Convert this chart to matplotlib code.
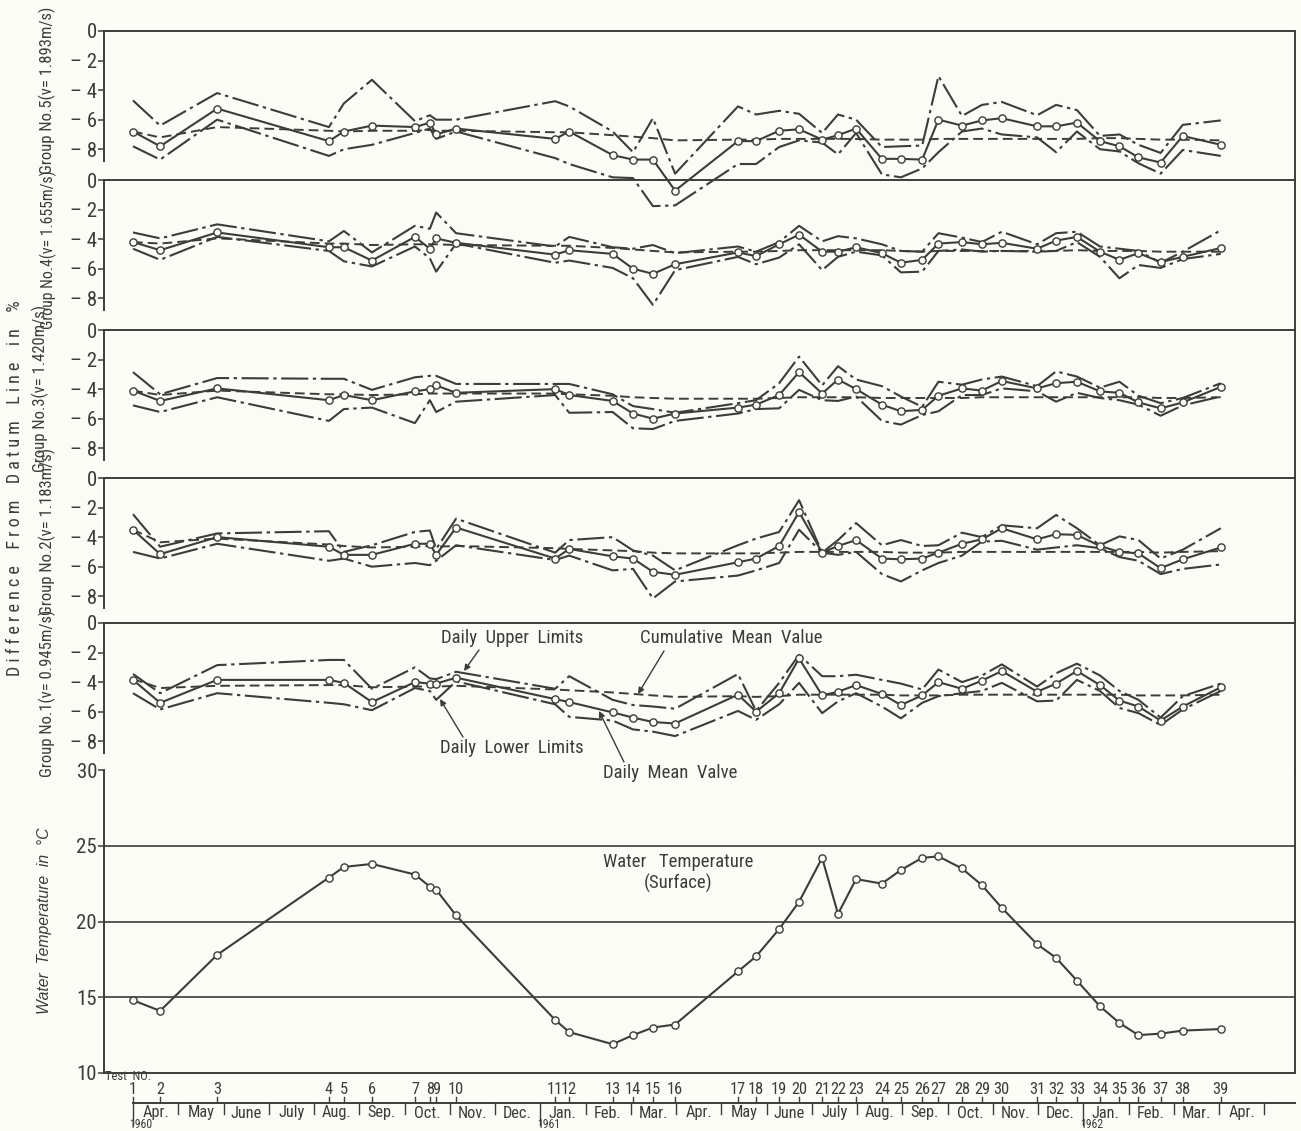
import matplotlib
matplotlib.use('Agg')
import matplotlib.pyplot as plt
from matplotlib import font_manager as fm

# ---------------- data ----------------
test_no = list(range(1, 40))
# test dates in months counted from 1 Apr 1960
test_month = [0.0, 0.60, 1.86, 4.33, 4.66, 5.28, 6.23, 6.56, 6.70, 7.14,
              9.33, 9.64, 10.60, 11.05, 11.49, 11.98, 13.37, 13.77, 14.28, 14.72,
              15.23, 15.58, 15.98, 16.55, 16.97, 17.44, 17.80, 18.32, 18.76, 19.20,
              19.98, 20.40, 20.86, 21.37, 21.80, 22.22, 22.71, 23.20, 24.04]

water_temp = [14.8, 14.1, 17.8, 22.9, 23.6, 23.8, 23.1, 22.3, 22.1, 20.4,
              13.5, 12.7, 11.9, 12.5, 13.0, 13.2, 16.7, 17.7, 19.5, 21.3,
              24.2, 20.5, 22.8, 22.5, 23.4, 24.2, 24.3, 23.5, 22.4, 20.9,
              18.5, 17.6, 16.1, 14.4, 13.3, 12.5, 12.6, 12.8, 12.9]

g5_upper = [-4.7, -6.4, -4.2, -6.5, -4.9, -3.3, -6.1, -5.7, -6.0, -6.0,
            -4.75, -5.1, -6.8, -8.2, -5.9, -9.65, -5.1, -5.65, -5.4, -5.6,
            -6.9, -5.65, -6.0, -7.85, -7.8, -7.75, -3.05, -5.75, -5.0, -4.8,
            -5.7, -5.0, -5.35, -7.1, -7.0, -7.7, -8.25, -6.35, -6.05]
g5_mean = [-6.8, -7.8, -5.25, -7.45, -6.8, -6.4, -6.5, -6.2, -7.0, -6.6,
           -7.3, -6.8, -8.4, -8.7, -8.7, -10.8, -7.45, -7.45, -6.75, -6.65,
           -7.35, -7.05, -6.6, -8.65, -8.65, -8.7, -6.0, -6.4, -6.05, -5.9,
           -6.45, -6.45, -6.2, -7.45, -7.8, -8.55, -8.9, -7.1, -7.7]
g5_lower = [-7.8, -8.7, -6.0, -8.45, -8.0, -7.7, -6.9, -6.6, -7.3, -6.8,
            -8.6, -9.0, -9.9, -9.95, -11.85, -11.8, -9.0, -9.0, -7.85, -7.4,
            -7.55, -8.35, -6.9, -9.7, -9.9, -9.3, -8.2, -6.8, -6.6, -7.0,
            -7.2, -8.2, -6.8, -8.0, -8.15, -8.95, -9.65, -8.05, -8.45]
g5_cum = [-6.8, -7.2, -6.5, -6.75, -6.8, -6.75, -6.75, -6.7, -6.75, -6.75,
          -6.85, -6.85, -7.05, -7.15, -7.25, -7.4, -7.35, -7.35, -7.3, -7.3,
          -7.3, -7.3, -7.3, -7.35, -7.35, -7.35, -7.3, -7.3, -7.3, -7.3,
          -7.3, -7.3, -7.3, -7.25, -7.25, -7.3, -7.35, -7.35, -7.4]

g4_upper = [-3.55, -3.95, -3.0, -4.15, -3.45, -4.9, -3.1, -3.3, -2.2, -3.6,
            -4.5, -3.85, -4.55, -4.65, -4.4, -4.95, -4.5, -4.85, -4.2, -3.1,
            -4.15, -3.8, -3.95, -4.35, -4.8, -4.85, -3.6, -3.9, -4.2, -3.5,
            -4.35, -3.6, -3.5, -4.5, -4.65, -4.8, -5.6, -4.85, -3.4]
g4_mean = [-4.2, -4.75, -3.55, -4.55, -4.55, -5.45, -3.85, -4.65, -3.95, -4.25,
           -5.05, -4.75, -5.0, -6.0, -6.35, -5.7, -4.9, -5.15, -4.35, -3.7,
           -4.85, -4.85, -4.55, -4.95, -5.6, -5.4, -4.3, -4.2, -4.35, -4.25,
           -4.65, -4.1, -3.85, -4.85, -5.4, -4.95, -5.55, -5.2, -4.6]
g4_lower = [-4.65, -5.4, -3.85, -4.8, -5.5, -5.85, -4.5, -5.3, -6.2, -4.3,
            -5.6, -5.45, -5.95, -6.65, -8.45, -6.1, -5.2, -5.7, -5.25, -4.35,
            -6.1, -5.2, -4.85, -5.1, -6.25, -6.2, -4.8, -4.7, -4.85, -4.8,
            -4.85, -4.8, -4.2, -5.2, -6.65, -5.75, -5.95, -5.35, -5.0]
g4_cum = [-4.2, -4.3, -3.95, -4.3, -4.3, -4.4, -4.35, -4.35, -4.35, -4.4,
          -4.45, -4.45, -4.6, -4.7, -4.8, -4.9, -4.85, -4.85, -4.8, -4.75,
          -4.75, -4.75, -4.75, -4.75, -4.8, -4.85, -4.8, -4.8, -4.8, -4.8,
          -4.8, -4.8, -4.75, -4.8, -4.8, -4.8, -4.85, -4.85, -4.85]

g3_upper = [-2.85, -4.35, -3.25, -3.3, -3.3, -4.05, -3.2, -3.1, -3.1, -3.65,
            -3.65, -3.65, -4.35, -5.15, -5.35, -5.6, -4.95, -4.75, -3.6, -1.8,
            -3.75, -2.45, -3.35, -3.8, -4.5, -5.2, -3.5, -3.7, -3.35, -3.15,
            -3.8, -2.8, -3.15, -3.9, -3.5, -4.45, -4.95, -4.6, -3.6]
g3_mean = [-4.1, -4.8, -3.95, -4.75, -4.4, -4.75, -4.15, -4.0, -3.75, -4.25,
           -4.0, -4.4, -4.8, -5.65, -6.0, -5.65, -5.25, -5.05, -4.4, -2.85,
           -4.3, -3.35, -4.0, -5.05, -5.5, -5.4, -4.45, -3.95, -4.1, -3.45,
           -3.95, -3.6, -3.5, -4.15, -4.25, -4.9, -5.3, -4.9, -3.85]
g3_lower = [-5.1, -5.55, -4.55, -6.15, -5.35, -5.25, -6.3, -4.75, -5.55, -4.85,
            -4.4, -5.6, -5.55, -6.65, -6.7, -6.15, -5.65, -5.35, -5.3, -4.05,
            -4.75, -4.8, -4.5, -6.15, -6.4, -5.75, -5.5, -4.4, -4.4, -3.95,
            -4.15, -4.85, -4.25, -4.6, -4.75, -5.05, -5.8, -5.1, -4.5]
g3_cum = [-4.1, -4.4, -4.1, -4.35, -4.35, -4.4, -4.35, -4.3, -4.3, -4.3,
          -4.3, -4.35, -4.45, -4.55, -4.6, -4.65, -4.65, -4.65, -4.6, -4.55,
          -4.55, -4.55, -4.55, -4.6, -4.6, -4.6, -4.6, -4.6, -4.55, -4.55,
          -4.55, -4.55, -4.55, -4.55, -4.55, -4.55, -4.6, -4.6, -4.55]

g2_upper = [-2.45, -4.65, -3.75, -3.6, -5.0, -4.55, -3.65, -3.55, -4.8, -2.75,
            -5.05, -4.2, -4.0, -4.9, -5.25, -6.25, -4.55, -4.1, -3.65, -1.5,
            -5.05, -4.2, -3.05, -4.55, -4.2, -4.6, -4.55, -3.7, -4.0, -3.2,
            -3.4, -2.5, -3.4, -4.55, -3.95, -4.2, -5.45, -4.85, -3.4]
g2_mean = [-3.5, -5.15, -4.0, -4.65, -5.2, -5.2, -4.45, -4.45, -5.2, -3.35,
           -5.45, -4.8, -5.3, -5.45, -6.35, -6.55, -5.7, -5.45, -4.6, -2.3,
           -5.05, -4.6, -4.2, -5.45, -5.5, -5.45, -5.05, -4.45, -4.15, -3.4,
           -4.15, -3.8, -3.85, -4.6, -5.0, -5.1, -6.1, -5.5, -4.7]
g2_lower = [-5.0, -5.45, -4.45, -5.6, -5.45, -6.0, -5.75, -5.9, -5.6, -4.55,
            -5.55, -5.25, -6.25, -6.15, -8.15, -7.0, -6.6, -6.25, -5.75, -3.5,
            -5.05, -5.2, -5.0, -6.5, -7.0, -6.25, -5.75, -5.25, -4.3, -4.25,
            -4.85, -4.7, -4.55, -4.75, -5.35, -5.6, -6.5, -6.15, -5.85]
g2_cum = [-3.5, -4.35, -4.1, -4.5, -4.6, -4.7, -4.65, -4.6, -4.65, -4.6,
          -4.75, -4.8, -4.9, -4.95, -5.05, -5.1, -5.1, -5.1, -5.05, -5.0,
          -5.0, -5.0, -5.0, -5.0, -5.05, -5.05, -5.05, -5.0, -5.0, -5.0,
          -5.0, -5.0, -5.0, -5.0, -5.0, -5.0, -5.05, -5.0, -4.95]

g1_upper = [-3.45, -4.75, -2.85, -2.5, -2.5, -4.45, -3.0, -3.75, -3.8, -3.3,
            -4.45, -3.6, -5.2, -5.55, -5.65, -5.8, -3.45, -5.95, -4.05, -2.15,
            -3.6, -3.6, -3.5, -3.85, -4.1, -4.5, -3.15, -4.0, -3.55, -2.8,
            -4.3, -3.4, -2.75, -3.55, -4.6, -5.2, -6.4, -4.95, -4.1]
g1_mean = [-3.85, -5.4, -3.85, -3.85, -4.05, -5.35, -4.0, -4.1, -4.1, -3.7,
           -5.15, -5.35, -6.05, -6.4, -6.7, -6.8, -4.85, -6.0, -4.75, -2.4,
           -4.9, -4.65, -4.2, -4.8, -5.55, -4.9, -4.0, -4.45, -3.9, -3.25,
           -4.65, -4.1, -3.25, -4.2, -5.25, -5.65, -6.6, -5.65, -4.35]
g1_lower = [-4.75, -5.85, -4.75, -5.4, -5.5, -5.9, -4.4, -4.6, -5.2, -3.95,
            -5.5, -6.35, -6.6, -7.2, -7.35, -7.65, -5.95, -6.55, -5.5, -4.05,
            -6.1, -5.3, -4.75, -5.65, -6.45, -5.4, -4.95, -4.75, -4.6, -4.05,
            -5.3, -5.25, -3.85, -4.6, -5.75, -6.1, -6.9, -5.85, -4.6]
g1_cum = [-3.8, -4.4, -4.25, -4.2, -4.2, -4.35, -4.3, -4.3, -4.3, -4.25,
          -4.5, -4.55, -4.7, -4.8, -4.9, -5.0, -4.95, -5.0, -4.95, -4.85,
          -4.85, -4.85, -4.85, -4.85, -4.9, -4.9, -4.9, -4.85, -4.85, -4.85,
          -4.85, -4.85, -4.85, -4.85, -4.85, -4.9, -4.9, -4.9, -4.85]

group_labels = ['Group No.5(v= 1.893m/s)', 'Group No.4(v= 1.655m/s)',
                'Group No.3(v= 1.420m/s)', 'Group No.2(v= 1.183m/s)',
                'Group No.1(v= 0.945m/s)']
month_labels = ['Apr.', 'May', 'June', 'July', 'Aug.', 'Sep.', 'Oct.', 'Nov.',
                'Dec.', 'Jan.', 'Feb.', 'Mar.', 'Apr.', 'May', 'June', 'July',
                'Aug.', 'Sep.', 'Oct.', 'Nov.', 'Dec.', 'Jan.', 'Feb.', 'Mar.', 'Apr.']
year_labels = ['1960', '1961', '1962']
year_month = [0, 9, 21]
diff_ticks = [0, -2, -4, -6, -8]
diff_ticklabels = ['0', '– 2', '– 4', '– 6', '– 8']
temp_ticks = [10, 15, 20, 25, 30]

groups = [
    (g5_upper, g5_mean, g5_lower, g5_cum),
    (g4_upper, g4_mean, g4_lower, g4_cum),
    (g3_upper, g3_mean, g3_lower, g3_cum),
    (g2_upper, g2_mean, g2_lower, g2_cum),
    (g1_upper, g1_mean, g1_lower, g1_cum),
]

# ---------------- fonts ----------------
plt.rcParams['font.family'] = ['Liberation Sans', 'DejaVu Sans']


def _find_condensed():
    pref = ['Liberation Sans Narrow', 'Roboto Condensed', 'Open Sans Condensed',
            'Noto Sans Condensed', 'DejaVu Sans Condensed', 'Noto Sans Display Condensed']
    cands = []
    for f in fm.fontManager.ttflist:
        st = str(f.stretch).lower()
        narrow = ('condensed' in st and 'semi' not in st) or 'Narrow' in f.name \
            or 'Condensed' in f.name
        if not narrow:
            continue
        if f.style != 'normal':
            continue
        if f.weight not in (400, 'normal', 'regular', 'book'):
            continue
        cands.append(f)
    for p in pref:
        for f in cands:
            if f.name == p:
                return f
    return cands[0] if cands else None


_cf = _find_condensed()
HAVE_NARROW = _cf is not None


def nf(size, italic=False):
    if HAVE_NARROW and not italic:
        return fm.FontProperties(fname=_cf.fname, size=size)
    return fm.FontProperties(family=['Liberation Sans', 'DejaVu Sans'],
                             size=size * (1.0 if HAVE_NARROW else 0.86),
                             style='italic' if italic else 'normal')


BG = '#fbfcf5'
INK = '#3a3d3a'
W, H = 1301, 1131
fig = plt.figure(figsize=(W / 100, H / 100), dpi=100, facecolor=BG)

XL, XR = 104, 1295
X0, PXM = 133.0, 45.25          # pixel of 1 Apr 1960, pixels per month
xlim = ((XL - X0) / PXM, (XR - X0) / PXM)
PXU = 14.78                      # pixels per % unit


def add_ax(top, bottom):
    a = fig.add_axes([XL / W, 1 - bottom / H, (XR - XL) / W, (bottom - top) / H])
    a.set_facecolor('none')
    a.set_xlim(*xlim)
    return a


UL = (0, (13, 2.2, 1.6, 2.2))
tops = [31, 180, 330, 478, 623]
bots = [180, 330, 478, 623, 770]
axes = []
for i, (u, m, l, c) in enumerate(groups):
    ax = add_ax(tops[i], bots[i])
    ax.set_ylim(-(bots[i] - tops[i]) / PXU, 0)
    ax.plot(test_month, u, color=INK, lw=1.5, ls=UL, clip_on=False, zorder=3)
    ax.plot(test_month, l, color=INK, lw=1.5, ls=UL, clip_on=False, zorder=3)
    ax.plot(test_month, c, color=INK, lw=1.4, ls=(0, (5, 2.6)), clip_on=False, zorder=3)
    ax.plot(test_month, m, color=INK, lw=1.5, marker='o', ms=5.2, mfc=BG,
            mec=INK, mew=1.0, clip_on=False, zorder=4)
    ax.spines['bottom'].set_visible(False)
    for s in ['top', 'left', 'right']:
        ax.spines[s].set_color(INK)
        ax.spines[s].set_linewidth(1.4)
    ax.spines['left'].set_bounds(-8.8, 0)
    ax.set_xticks([])
    ax.set_yticks(diff_ticks)
    ax.set_yticklabels(diff_ticklabels, fontproperties=nf(15))
    ax.tick_params(axis='y', direction='out', length=4, width=1.1, pad=1, colors=INK)
    axes.append(ax)

# temperature panel
axt = add_ax(770, 1073)
axt.set_ylim(10, 30)
for g in (15, 20, 25):
    axt.axhline(g, color=INK, lw=1.2, zorder=1)
axt.plot(test_month, water_temp, color=INK, lw=1.5, marker='o', ms=5.2,
         mfc=BG, mec=INK, mew=1.0, zorder=4)
axt.spines['top'].set_visible(False)
for s in ['bottom', 'left', 'right']:
    axt.spines[s].set_color(INK)
    axt.spines[s].set_linewidth(1.4)
axt.set_xticks([])
axt.set_yticks(temp_ticks)
axt.set_yticklabels([str(t) for t in temp_ticks], fontproperties=nf(15))
axt.tick_params(axis='y', direction='out', length=4, width=1.1, pad=1, colors=INK)
axt.text((678 - X0) / PXM, 23.2, 'Water   Temperature\n(Surface)', ha='center',
         va='center', fontproperties=nf(13.5), color=INK, linespacing=1.25)

# bottom strip: test numbers and months (pixel offsets below y=1073)
axb = add_ax(1073, H)
axb.set_ylim(H - 1073, 0)
axb.axis('off')
axb.text(xlim[0] + 0.03, 3.5, 'Test  NO.', fontproperties=nf(9), color=INK,
         ha='left', va='center')
for n, xm in zip(test_no, test_month):
    axb.text(xm, 16, str(n), fontproperties=nf(11.8), color=INK, ha='center', va='center')
    axb.plot([xm, xm], [24, 28.5], color=INK, lw=1.0, clip_on=False)
axb.plot([0, xlim[1]], [30, 30], color=INK, lw=1.4, clip_on=False)
for k in range(len(month_labels) + 1):
    y1 = 52 if k in year_month else 41
    axb.plot([k, k], [30, y1], color=INK, lw=1.0, clip_on=False)
for k, lab in enumerate(month_labels):
    axb.text(k + 0.5, 40.0, lab, fontproperties=nf(11.8), color=INK, ha='center', va='center')
for yl, ym in zip(year_labels, year_month):
    axb.text(ym - 0.08, 58.4, yl, fontproperties=nf(8.5), color=INK, ha='left',
             va='bottom', clip_on=False)

# annotations in group 1 panel
ax1 = axes[4]


def fp(x, y):
    return (x, H - y)


ann = [
    ('Daily  Upper  Limits', (512, 638), (479, 650), (464, 671)),
    ('Cumulative  Mean  Value', (731, 638), (664, 651), (638, 694)),
    ('Daily  Lower  Limits', (512, 748), (463, 737), (440, 699)),
    ('Daily  Mean  Valve', (670, 773), (624, 762), (599, 711)),
]
for txt, tpos, a0, a1 in ann:
    fig.text(tpos[0] / W, 1 - tpos[1] / H, txt, ha='center', va='center',
             fontproperties=nf(13.5), color=INK)
    ax1.annotate('', xy=fp(*a1), xycoords='figure pixels', xytext=fp(*a0),
                 textcoords='figure pixels',
                 arrowprops=dict(arrowstyle='-|>', color=INK, lw=1.0,
                                 mutation_scale=9, shrinkA=0, shrinkB=0))

# left-hand labels
label_pos = [(47, 90, 12), (48, 250, 11.3), (40, 388, 12), (47, 531, 12), (47, 693, 12)]
for lab, (lx, ly, ls_) in zip(group_labels, label_pos):
    fig.text(lx / W, 1 - ly / H, lab, rotation=90, ha='center', va='center',
             fontproperties=nf(ls_), color=INK)
fig.text(15 / W, 1 - 488 / H,
         'D i f f e r e n c e    F r o m    D a t u m    L i n e    i n    %',
         rotation=90, ha='center', va='center', fontproperties=nf(13), color=INK)
fig.text(45 / W, 1 - 921 / H, 'Water  Temperature  in  °C', rotation=90,
         ha='center', va='center', fontproperties=nf(11.3, italic=True), color=INK)

fig.savefig('out.png', dpi=100, facecolor=BG)
